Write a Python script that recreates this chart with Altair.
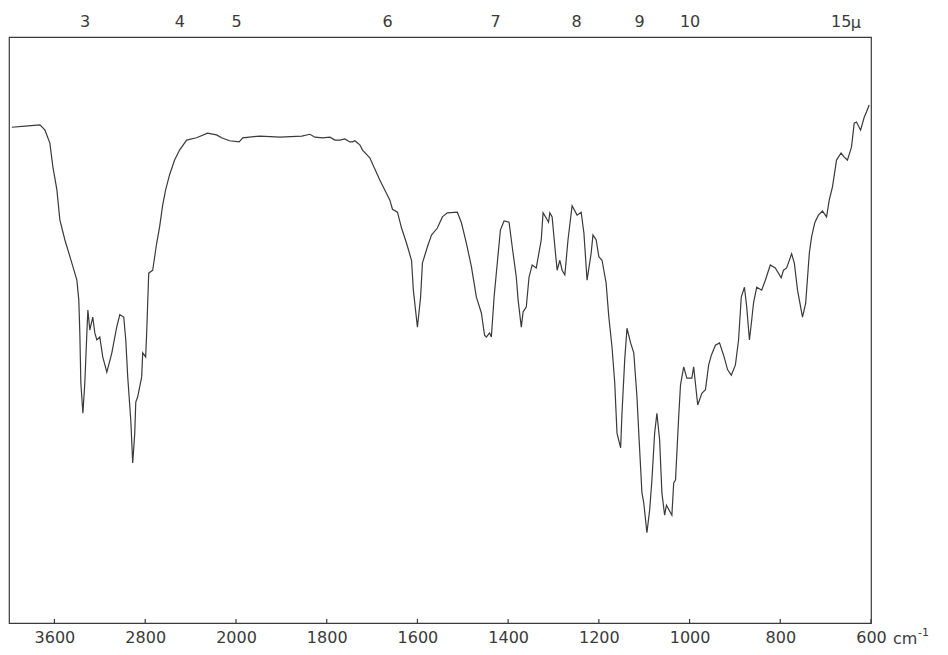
import altair as alt
import pandas as pd

# ---- data (wavenumber in cm-1, transmittance in %) ----
wavenumber = [3975, 3859, 3727, 3683, 3640, 3613, 3578, 3552, 3508, 3446, 3402, 3385, 3376, 3367, 3349,
              3332, 3314, 3305, 3288, 3262, 3244, 3226, 3200, 3174, 3138, 3094, 3051, 3024, 2989, 2971,
              2954, 2927, 2910, 2892, 2883, 2866, 2831, 2822, 2796, 2787, 2769, 2734, 2699, 2673, 2646,
              2620, 2585, 2541, 2497, 2435, 2347, 2251, 2171, 2127, 2057, 1993, 1985, 1947, 1903, 1855,
              1837, 1826, 1809, 1793, 1782, 1771, 1760, 1749, 1743, 1738, 1732, 1727,
              1721, 1705, 1683, 1672, 1661, 1655, 1644, 1635, 1624, 1613, 1609,
              1600, 1593, 1589, 1578, 1569, 1556, 1545, 1534, 1512, 1503, 1492, 1481, 1470, 1459, 1452,
              1448, 1441, 1437, 1431, 1424, 1417, 1409, 1398, 1391, 1382, 1378, 1371, 1367, 1360, 1354,
              1347, 1338, 1327, 1323, 1316, 1311, 1308, 1303, 1297, 1292, 1286, 1281, 1275, 1268, 1259,
              1248, 1239, 1233, 1226, 1217, 1213, 1206, 1200, 1193, 1184, 1178, 1171, 1165, 1160, 1152,
              1149, 1143, 1138, 1130, 1123, 1116, 1112, 1105, 1101, 1094, 1088, 1083, 1077, 1072, 1066,
              1061, 1055, 1051, 1039, 1035, 1031, 1024, 1020, 1013, 1006, 995, 991, 982, 973, 965,
              958, 952, 943, 934, 925, 916, 908, 899, 892, 886, 879, 874, 868, 863, 859,
              852, 841, 833, 822, 811, 798, 793, 786, 775, 769, 762, 751, 744, 736, 731,
              724, 716, 707, 698, 692, 685, 676, 666, 659, 652, 643, 637, 632, 623, 615,
              610, 604]
transmittance = [84.6, 84.8, 85.0, 84.1, 81.9, 77.8, 73.9, 68.8, 65.4, 61.4, 58.5, 55.1, 49.5, 41.0, 35.8,
                 41.0, 49.5, 53.4, 50.0, 52.2, 49.5, 48.3, 48.8, 45.4, 42.8, 46.1, 50.5, 52.6, 52.2, 48.3,
                 42.0, 34.6, 27.3, 32.4, 37.7, 38.6, 42.0, 46.1, 45.4, 49.5, 59.7, 60.2, 64.8, 67.6, 71.3,
                 73.9, 76.5, 79.0, 80.7, 82.4, 82.8, 83.6, 83.3, 82.8, 82.3, 82.1, 82.8, 83.1, 82.9, 83.1,
                 83.4, 82.9, 82.8, 82.9, 82.4, 82.4, 82.6, 82.1, 82.1, 82.3, 81.9, 81.6,
                 80.7, 79.4, 75.6, 73.9, 72.2, 70.6, 70.1, 67.4, 64.8, 61.9, 56.8,
                 50.5, 55.6, 61.4, 64.2, 66.2, 67.4, 69.3, 70.0, 70.1, 68.3, 64.8, 60.8, 55.6, 52.9, 49.1,
                 48.8, 49.5, 48.8, 55.6, 61.4, 67.1, 68.6, 68.4, 64.2, 59.0, 55.1, 50.5, 53.1, 53.9, 59.0,
                 61.1, 60.6, 65.4, 70.0, 69.1, 68.4, 70.0, 69.3, 64.2, 60.2, 61.9, 60.2, 59.4, 65.4, 71.2,
                 69.6, 70.1, 66.6, 58.5, 63.1, 66.2, 65.4, 62.5, 61.9, 58.0, 52.2, 47.1, 41.0, 32.4, 29.9,
                 35.8, 44.9, 50.3, 47.8, 46.1, 38.6, 32.4, 22.2, 20.5, 15.4, 19.3, 24.4, 32.4, 35.8, 31.2,
                 22.2, 18.4, 20.1, 18.4, 23.9, 24.4, 35.2, 40.6, 43.7, 41.8, 41.8, 43.7, 37.2, 39.2, 39.8,
                 44.0, 45.7, 47.4, 47.8, 45.7, 43.2, 42.3, 44.0, 48.3, 55.6, 57.3, 53.9, 48.3, 51.7, 54.6,
                 57.3, 56.8, 58.5, 61.1, 60.6, 58.9, 60.2, 60.6, 63.0, 61.4, 56.8, 52.2, 54.6, 63.1, 65.9,
                 68.3, 69.6, 70.3, 69.3, 72.2, 74.4, 79.0, 80.2, 79.5, 79.0, 81.2, 85.3, 85.5, 84.1, 86.3,
                 87.2, 88.4]

bottom_ticks = [3600, 2800, 2000, 1800, 1600, 1400, 1200, 1000, 800, 600]
micron_labels = [3, 4, 5, 6, 7, 8, 9, 10, 15]

W, H = 862, 586
INK = "#3a3a3a"
FONT = "DejaVu Sans"

def xs():
    return alt.Scale(domain=[4000, 2000, 600], range=[0, 227, W], zero=False, nice=False)

ys = alt.Scale(domain=[0, 100], zero=False, nice=False)

spec = pd.DataFrame({"wn": wavenumber, "T": transmittance})
ticks = pd.DataFrame({"wn": bottom_ticks})
mu = pd.DataFrame({"wn": [10000.0 / m for m in micron_labels], "mu": micron_labels})

line = alt.Chart(spec).mark_line(color=INK, strokeWidth=1.2).encode(
    x=alt.X("wn:Q", scale=xs(),
            axis=alt.Axis(orient="bottom", values=bottom_ticks, format="d", tickSize=0, domain=False,
                          grid=False, labelFont=FONT, labelFontSize=16, labelColor=INK,
                          labelPadding=6, labelFlush=False, labelOverlap=False, title=None)),
    y=alt.Y("T:Q", scale=ys, axis=None),
)

tick_rules = alt.Chart(ticks).mark_rule(color=INK, strokeWidth=1.2).encode(
    x=alt.X("wn:Q", scale=xs(), axis=None),
    y=alt.value(H - 4),
    y2=alt.value(H),
)

top_axis = alt.Chart(mu).mark_point(opacity=0).encode(
    x=alt.X("wn:Q", scale=xs(),
            axis=alt.Axis(orient="top", values=[10000.0 / m for m in micron_labels],
                          labelExpr="round(10000 / datum.value)", tickSize=0, domain=False,
                          grid=False, labelFont=FONT, labelFontSize=16, labelColor=INK,
                          labelPadding=8, labelFlush=False, labelOverlap=False, title=None)),
)

mu_text = alt.Chart(pd.DataFrame({"wn": [10000.0 / 15], "t": ["\u03bc"]})).mark_text(
    align="left", baseline="alphabetic", dx=10, font=FONT, fontSize=16, color=INK
).encode(x=alt.X("wn:Q", scale=xs(), axis=None), y=alt.value(-9), text="t:N")

cm_text = alt.Chart(pd.DataFrame({"wn": [600], "t": ["cm"]})).mark_text(
    align="left", baseline="alphabetic", dx=22, font=FONT, fontSize=16, color=INK
).encode(x=alt.X("wn:Q", scale=xs(), axis=None), y=alt.value(H + 21), text="t:N")

cm_sup = alt.Chart(pd.DataFrame({"wn": [600], "t": ["-1"]})).mark_text(
    align="left", baseline="alphabetic", dx=47, font=FONT, fontSize=11, color=INK
).encode(x=alt.X("wn:Q", scale=xs(), axis=None), y=alt.value(H + 13), text="t:N")

chart = alt.layer(line, tick_rules, top_axis, mu_text, cm_text, cm_sup).resolve_scale(
    x="independent"
).properties(
    width=W, height=H,
    padding={"left": 1, "top": 29, "right": 69, "bottom": 24},
    autosize=alt.AutoSizeParams(type="none"),
    background="white",
).configure_view(stroke=INK, strokeWidth=1.2)

chart.save("out.html", embed_options={"renderer": "svg", "actions": False})
